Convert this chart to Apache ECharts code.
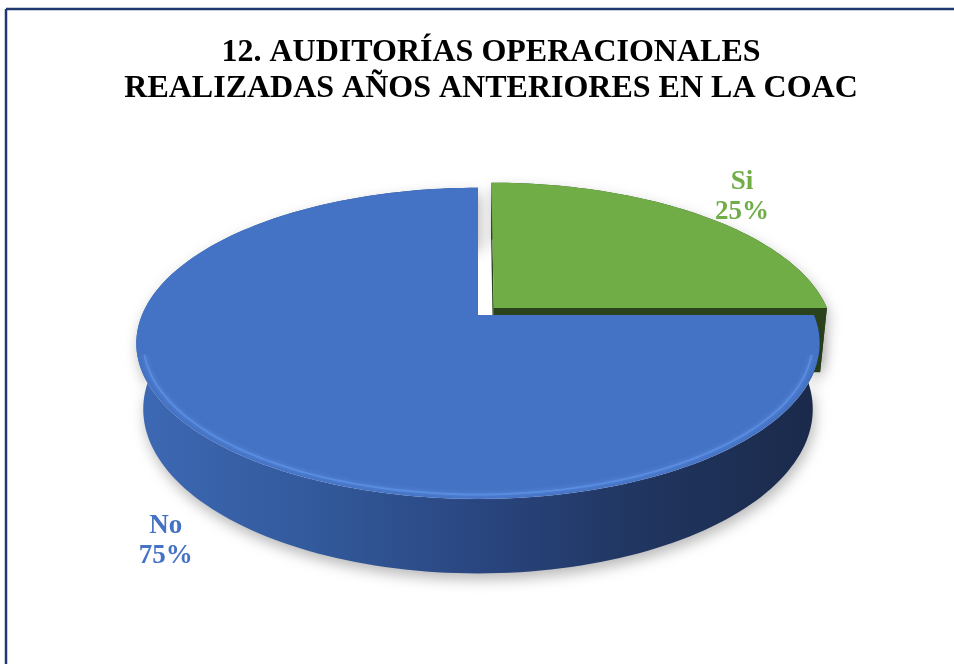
<!DOCTYPE html>
<html><head><meta charset="utf-8">
<script src="https://cdn.jsdelivr.net/npm/echarts@6/dist/echarts.min.js"></script>
<style>html,body{margin:0;padding:0;background:#fff}#c{width:954px;height:664px}</style>
</head><body><div id="c"></div>
<script>
const titleLines = ['12. AUDITORÍAS OPERACIONALES', 'REALIZADAS AÑOS ANTERIORES EN LA COAC'];
const categories = ['Si', 'No'];
const values = [25, 75];

const sliceStyle = {
  Si: { top: '#70ad47', side: ['#46702e', '#2c471d'], face: '#2b431c', label: '#70ad47', explode: 0.067, labelR: 1.23, labelH: 0 },
  No: { top: '#4472c4', side: ['#3d68b3', '#325a9c', '#2a4680', '#20355f', '#1b2a4b'], face: '#22386a', label: '#4472c4', explode: 0, labelR: 1.15, labelH: -0.25 }
};
const view = { cx: 478, cy: 315, S: 336, D: 4.91, elev: 26.6, H: 0.22 };

const sa = Math.sin(view.elev * Math.PI / 180), ca = Math.cos(view.elev * Math.PI / 180);
function proj(x, y, h) {
  const Yc = y * sa + h * ca;
  const Zc = y * ca - h * sa + view.D;
  const k = view.S * view.D / Zc;
  return [view.cx + x * k, view.cy - Yc * k];
}
const total = values.reduce((a, b) => a + b, 0);

function renderItem(params, api) {
  const i = params.dataIndex;
  const name = categories[i];
  const st = sliceStyle[name];
  let start = 0;
  for (let j = 0; j < i; j++) start += values[j];
  const t0 = 90 - start / total * 360;
  const t1 = 90 - (start + values[i]) / total * 360;
  const mid = (t0 + t1) / 2 * Math.PI / 180;
  const ox = st.explode * Math.cos(mid), oy = st.explode * Math.sin(mid);
  const P = (x, y, h) => proj(x + ox, y + oy, h);
  function arc(a, b, r, h) {
    const n = Math.max(2, Math.ceil(Math.abs(b - a) / 1.5) + 1);
    const pts = [];
    for (let k = 0; k < n; k++) {
      const t = (a + (b - a) * k / (n - 1)) * Math.PI / 180;
      pts.push(P(r * Math.cos(t), r * Math.sin(t), h));
    }
    return pts;
  }
  const H = view.H;
  const children = [];
  const stops = st.side.map((c, k) => ({ offset: k / (st.side.length - 1), color: c }));
  const sideGrad = new echarts.graphic.LinearGradient(view.cx - view.S, 0, view.cx + view.S, 0, stops, true);
  children.push({
    type: 'polygon',
    shape: { points: arc(t0, t1, 1, 0).concat(arc(t1, t0, 1, -H)) },
    style: { fill: sideGrad, shadowBlur: 14, shadowColor: 'rgba(0,0,0,0.28)', shadowOffsetY: 6, shadowOffsetX: 2 }
  });
  [t0, t1].forEach(t => {
    const r = t * Math.PI / 180, c = Math.cos(r), s = Math.sin(r);
    children.push({
      type: 'polygon',
      shape: { points: [P(0, 0, 0), P(c, s, 0), P(c, s, -H), P(0, 0, -H)] },
      style: { fill: st.face }
    });
  });
  children.push({
    type: 'polygon',
    shape: { points: [P(0, 0, 0)].concat(arc(t0, t1, 1, 0)) },
    style: { fill: st.top }
  });
  // soft bevel highlight along the front rim
  const hl = [];
  const n = Math.ceil(Math.abs(t1 - t0) / 1.5) + 1;
  for (let k = 0; k < n; k++) {
    const t = (t0 + (t1 - t0) * k / (n - 1)) * Math.PI / 180;
    if (Math.sin(t) < -0.25) hl.push(P(0.98 * Math.cos(t), 0.98 * Math.sin(t), 0));
  }
  if (hl.length > 1) {
    children.push({
      type: 'polyline', shape: { points: hl },
      style: { stroke: '#5d92e6', lineWidth: 2, fill: null, opacity: 0.75, shadowBlur: 5, shadowColor: '#6a9eee' }
    });
  }
  const lp = P(st.labelR * Math.cos(mid), st.labelR * Math.sin(mid), st.labelH);
  children.push({
    type: 'text', x: lp[0], y: lp[1],
    style: {
      text: name + '\n' + Math.round(values[i] / total * 100) + '%',
      fill: st.label, align: 'center', verticalAlign: 'middle',
      font: 'bold 27px "Liberation Serif"', lineHeight: 30
    }
  });
  return { type: 'group', children };
}

const chart = echarts.init(document.getElementById('c'));
chart.setOption({
  animation: false,
  title: {
    text: titleLines.join('\n'), left: 486, top: 30, textAlign: 'center',
    textStyle: { fontFamily: 'Liberation Serif', fontWeight: 'bold', fontSize: 32, lineHeight: 36, color: '#000' }
  },
  graphic: [
    { type: 'line', shape: { x1: 6, y1: 9, x2: 954, y2: 9 }, style: { stroke: '#1f3a70', lineWidth: 2.5 }, silent: true },
    { type: 'line', shape: { x1: 6, y1: 9, x2: 6, y2: 664 }, style: { stroke: '#1f3a70', lineWidth: 2.5 }, silent: true }
  ],
  series: [{
    type: 'custom', coordinateSystem: 'none', renderItem,
    data: values.map((v, i) => ({ name: categories[i], value: v }))
  }]
});
</script></body></html>
